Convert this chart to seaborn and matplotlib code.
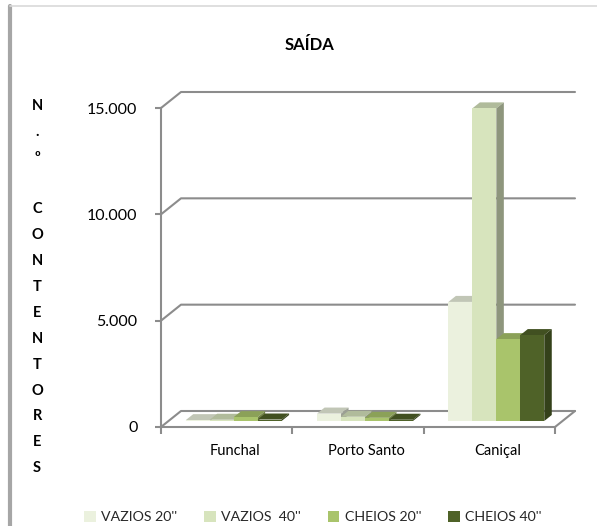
import matplotlib
matplotlib.use("Agg")
import numpy as np
import pandas as pd
import seaborn as sns
import matplotlib.pyplot as plt
from matplotlib.transforms import ScaledTranslation
from matplotlib.patches import Polygon
from matplotlib.lines import Line2D
from matplotlib.ticker import FixedLocator, FuncFormatter

# ---- data ----
categories = ["Funchal", "Porto Santo", "Caniçal"]
series = ["VAZIOS 20''", "VAZIOS  40''", "CHEIOS 20''", "CHEIOS 40''"]
vazios_20 = [40, 350, 5600]
vazios_40 = [60, 200, 14700]
cheios_20 = [180, 150, 3850]
cheios_40 = [70, 60, 4040]
yticks = [0, 5000, 10000, 15000]
title = "SAÍDA"
colors = ["#EBF1DE", "#D7E4BD", "#A9C46B", "#4F6228"]

rows = []
for s, vals in zip(series, [vazios_20, vazios_40, cheios_20, cheios_40]):
    for c, v in zip(categories, vals):
        rows.append({"Local": c, "Tipo": s, "Valor": v})
df = pd.DataFrame(rows)

sns.set_theme(style="white")
plt.rcParams["font.family"] = ["Lato", "DejaVu Sans"]

W, H = 597, 526
fig = plt.figure(figsize=(W / 100, H / 100), dpi=100)
ax = fig.add_axes([161 / W, 99 / H, 394 / W, 319 / H])
ax.set_facecolor("none")

sns.barplot(data=df, x="Local", y="Valor", hue="Tipo", order=categories,
            hue_order=series, palette=colors, saturation=1, width=0.73,
            ax=ax, legend=False)
ax.set_xlim(-0.5, 2.5)
ax.set_ylim(0, 15000)

GRID = "#8C8C8C"
px_x = ax.bbox.width / 3.0
px_y = ax.bbox.height / 15000.0
wall_dx, wall_dy = 20, 16
bar_off_dx, bar_off_dy = 7, 6
depth_dx, depth_dy = 7.5, 6

for v in yticks:
    bx = wall_dx / px_x
    by = wall_dy / px_y
    ax.add_line(Line2D([-0.5, -0.5 + bx, 2.5 + bx], [v, v + by, v + by],
                       color=GRID, lw=1.5, zorder=0.5, clip_on=False))
ax.add_line(Line2D([2.5, 2.5 + wall_dx / px_x], [0, wall_dy / px_y],
                   color=GRID, lw=1.5, zorder=0.5, clip_on=False))

bar_tr = ax.transData + ScaledTranslation(bar_off_dx / 100, bar_off_dy / 100,
                                          fig.dpi_scale_trans)
patches = sorted(ax.patches, key=lambda p: p.get_x())
ddx = depth_dx / px_x
ddy = depth_dy / px_y
for k, p in enumerate(patches):
    fc = np.array(p.get_facecolor()[:3])
    p.set_transform(bar_tr)
    p.set_edgecolor("none")
    p.set_zorder(3 + 2 * k)
    x0, w, h = p.get_x(), p.get_width(), p.get_height()
    x1 = x0 + w
    top = Polygon([(x0, h), (x1, h), (x1 + ddx, h + ddy), (x0 + ddx, h + ddy)],
                  closed=True, facecolor=fc * 0.82, edgecolor="none",
                  transform=bar_tr, zorder=2 + 2 * k, clip_on=False)
    side = Polygon([(x1, 0), (x1 + ddx, ddy), (x1 + ddx, h + ddy), (x1, h)],
                   closed=True, facecolor=fc * 0.66, edgecolor="none",
                   transform=bar_tr, zorder=2 + 2 * k, clip_on=False)
    ax.add_patch(top)
    ax.add_patch(side)
    p.set_clip_on(False)

for s in ["top", "right"]:
    ax.spines[s].set_visible(False)
for s in ["left", "bottom"]:
    ax.spines[s].set_color(GRID)
    ax.spines[s].set_linewidth(1.5)
    ax.spines[s].set_zorder(1)

ax.yaxis.set_major_locator(FixedLocator(yticks))
ax.yaxis.set_major_formatter(FuncFormatter(lambda v, _: f"{int(v):,}".replace(",", ".")))
ax.tick_params(axis="y", which="major", left=True, length=4, width=1.5,
               color=GRID, pad=13, labelsize=11.5, labelcolor="#000000")
ax.set_xticks([0, 1, 2])
ax.set_xticks([-0.5, 0.5, 1.5, 2.5], minor=True)
ax.tick_params(axis="x", which="major", length=0, pad=12, labelsize=10.5,
               labelcolor="#000000")
ax.tick_params(axis="x", which="minor", bottom=True, length=5, width=1.5,
               color=GRID)
for lab in ax.get_xticklabels():
    lab.set_transform(lab.get_transform() + ScaledTranslation(8 / 100, 0, fig.dpi_scale_trans))
ax.set_xlabel("")
ax.set_ylabel("")

fig.text(309 / W, 1 - 45 / H, title, ha="center", va="center",
         fontsize=12, fontweight="bold", color="#000000")

letters = ["N", ".", "º", "", "C", "O", "N", "T", "E", "N", "T", "O", "R", "E", "S"]
fig.text(37 / W, 1 - 287 / H, "\n".join(letters), ha="center", va="center",
         multialignment="center", fontsize=10.5, fontweight="bold",
         linespacing=2.08, color="#000000")

handles = [plt.Rectangle((0, 0), 1, 1, facecolor=c, edgecolor="none") for c in colors]
fig.legend(handles, series, loc="center", bbox_to_anchor=(313 / W, 1 - 517 / H),
           ncol=4, frameon=False, fontsize=10.2, handlelength=0.8,
           handleheight=0.8, handletextpad=0.4, columnspacing=1.9)

fig.add_artist(Line2D([10 / W, 10 / W], [0, 1 - 6 / H], transform=fig.transFigure,
                      color="#A6A6A6", lw=3))
fig.add_artist(Line2D([10 / W, 1], [1 - 6 / H, 1 - 6 / H], transform=fig.transFigure,
                      color="#D9D9D9", lw=1.2))

fig.savefig("out.png", dpi=100)
